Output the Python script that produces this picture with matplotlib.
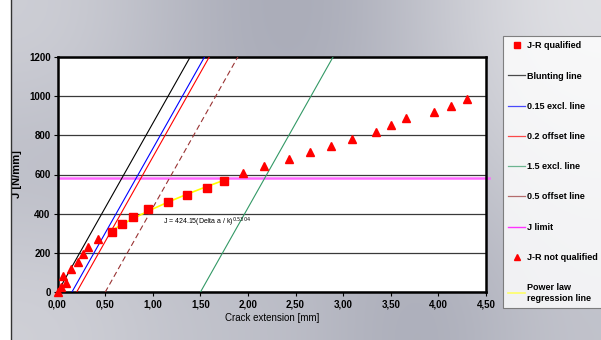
import numpy as np
import matplotlib
matplotlib.use("Agg")
import matplotlib.pyplot as plt
from matplotlib.lines import Line2D
from matplotlib.ticker import FuncFormatter, MultipleLocator

plt.rcParams['font.family'] = ['Liberation Sans', 'DejaVu Sans']

# J-R qualified points (crack extension mm, J N/mm)
qual_da = [0.569, 0.674, 0.797, 0.954, 1.157, 1.357, 1.574, 1.746]
qual_j = [309, 348, 385, 423, 460, 496, 533, 569]

# J-R not qualified points
nq_da = [0.0, 0.037, 0.061, 0.086, 0.142, 0.212, 0.271, 0.324, 0.429,
         1.949, 2.169, 2.428, 2.652, 2.876, 3.09, 3.346, 3.506, 3.66, 3.95, 4.13, 4.30]
nq_j = [3, 25, 83, 49, 119, 156, 193, 232, 270,
        606, 642, 677, 713, 747, 782, 817, 851, 886, 920, 950, 985]

# construction lines: J = slope * (da - offset)
blunt_slope = 860.0
line_offsets = [0.0, 0.15, 0.2, 1.5, 0.5]
line_names = ['Blunting line', '0.15 excl. line', '0.2 offset line', '1.5 excl. line', '0.5 offset line']
line_colors = ['black', '#0000ff', '#ff0000', '#339966', '#993333']
line_styles = ['-', '-', '-', '-', (0, (5, 3))]
j_max = 1200.0
j_limit = 583.0

# power law fit J = C * (da/k)^n
pl_c = 424.15
pl_n = 0.5304

W, H = 601, 340
fig = plt.figure(figsize=(W / 100, H / 100), dpi=100)

# gradient backdrop
bg = fig.add_axes([11 / W, 0, 1 - 11 / W, 1], zorder=-10)
light = np.array([232, 232, 235]) / 255
dark = np.array([146, 149, 165]) / 255
lev = np.array([[0.70, 0.40, 0.20, 0.55, 0.92],
                [0.45, 0.38, 0.38, 0.48, 0.70],
                [0.72, 0.55, 0.50, 0.22, 0.55]])
img = dark + lev[..., None] * (light - dark)
bg.imshow(img, extent=[0, 1, 0, 1], aspect='auto', interpolation='bicubic')
bg.set_axis_off()
fig.add_artist(Line2D([11 / W, 11 / W], [0, 1], color='#333333', lw=1))

ax = fig.add_axes([57.5 / W, 1 - 292.3 / H, (486 - 57.5) / W, (292.3 - 56.7) / H])
ax.set_facecolor('white')

h_q, = ax.plot(qual_da, qual_j, 's', color='#ff0000', ms=5.5, ls='none', zorder=5, clip_on=False)
for off, name, c, st in zip(line_offsets, line_names, line_colors, line_styles):
    jj = np.array([0, j_max])
    ax.plot(off + jj / blunt_slope, jj, color=c, lw=0.8, ls=st, zorder=3)
h_lines = [Line2D([], [], color=c, lw=0.9, alpha=0.7) for c in line_colors]
ax.axhline(j_limit, xmin=0, xmax=1.008, color='#ff66ff', lw=1.8, zorder=2, clip_on=False)
h_lim = Line2D([], [], color='#ff33ff', lw=1.0)
h_nq, = ax.plot(nq_da, nq_j, '^', color='#ff0000', ms=6, ls='none', zorder=5, clip_on=False)
fit_x = np.linspace(qual_da[0], qual_da[-1], 50)
ax.plot(fit_x, pl_c * fit_x ** pl_n, color='#ffff00', lw=1.2, zorder=4)
h_pl = Line2D([], [], color='#ffff66', lw=1.2)

ax.text(1.11, 355, r'J = 424.15(Delta a / k)$^{0.5304}$', fontsize=5, ha='left', va='center')

ax.set_xlim(0, 4.5)
ax.set_ylim(0, 1200)
ax.xaxis.set_major_locator(MultipleLocator(0.5))
ax.yaxis.set_major_locator(MultipleLocator(200))
ax.xaxis.set_major_formatter(FuncFormatter(lambda v, p: ('%.2f' % v).replace('.', ',')))
ax.yaxis.grid(True, color='#3a3a3a', lw=0.9)
ax.set_axisbelow(True)
for s in ax.spines.values():
    s.set_linewidth(1.8)
    s.set_color('black')
ax.tick_params(direction='out', length=3, width=0.8, labelsize=7, pad=2)
for lbl in ax.get_xticklabels() + ax.get_yticklabels():
    lbl.set_fontweight('bold')
ax.set_xlabel('Crack extension [mm]', fontsize=7, labelpad=3)
ax.set_ylabel('J [N/mm]', fontsize=8, fontweight='bold')
ax.yaxis.set_label_coords(-0.083, 0.5)

leg = fig.legend([h_q] + h_lines + [h_lim, h_nq, h_pl],
                 ['J-R qualified'] + line_names + ['J limit', 'J-R not qualified', 'Power law\nregression line'],
                 loc='upper left', bbox_to_anchor=(503 / W, 1 - 36 / H), borderaxespad=0,
                 frameon=True, fancybox=False, edgecolor='#666666',
                 handlelength=1.8, handletextpad=0.25, labelspacing=2.35, borderpad=0.6,
                 markerscale=0.8, prop={'weight': 'bold', 'size': 6.5})
leg.get_frame().set_linewidth(0.8)

fig.savefig('out.png', dpi=100)
